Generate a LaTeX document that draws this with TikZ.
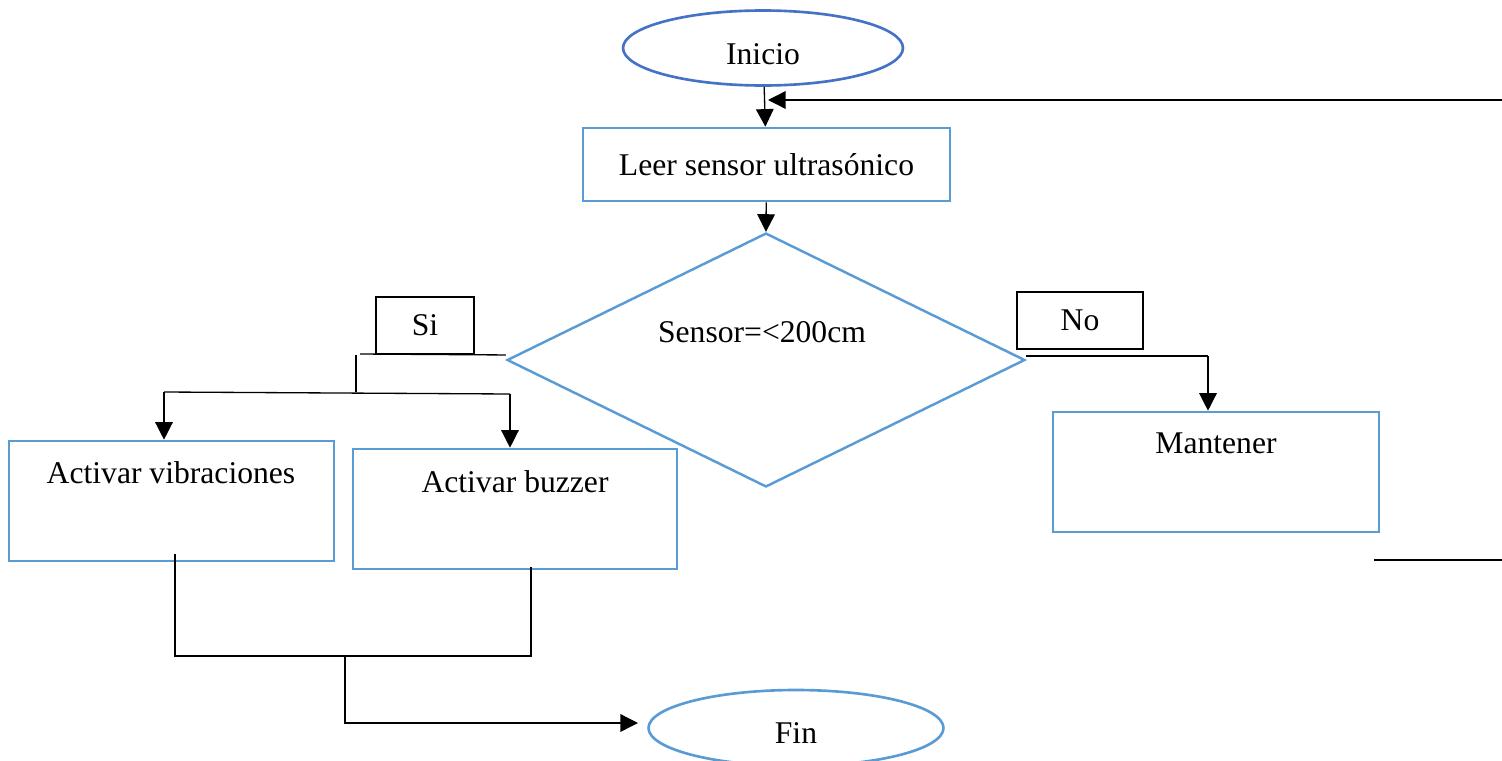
\documentclass[tikz,border=0pt]{standalone}
\usepackage{fontspec}
\setmainfont{Liberation Serif}
\usetikzlibrary{shapes.geometric,arrows.meta}
\definecolor{inicioblue}{HTML}{4472C4}
\definecolor{boxblue}{HTML}{5B9BD5}

\begin{document}
\begin{tikzpicture}[x=0.02cm,y=-0.02cm,font=\fontsize{18}{21}\selectfont,inner sep=0pt,
    startstop/.style={ellipse,draw=boxblue,line width=1.5pt},
    procbox/.style={rectangle,draw=boxblue,line width=1.5pt},
    decision/.style={diamond,draw=boxblue,line width=1.4pt},
    tagbox/.style={rectangle,draw=black,line width=1.1pt},
    conn/.style={line width=0.75pt},
    flecha/.style={conn,-{Triangle[length=10pt,width=10pt]}}]
  \path[use as bounding box] (0,0) rectangle (1502,761);
  \node[startstop,draw=inicioblue,minimum width=5.6cm,minimum height=1.5cm] (inicio) at (763,48) {};
  \node (iniciotxt) at (763,54) {Inicio};
  \node[procbox,minimum width=7.34cm,minimum height=1.46cm] (leer) at (766.5,164.5) {Leer sensor ultrasónico};
  \node[decision,minimum width=10.36cm,minimum height=5.08cm] (cond) at (766,360) {};
  \node (condtxt) at (762,332) {Sensor=<200cm};
  \node[tagbox,minimum width=1.96cm,minimum height=1.14cm] (si) at (425,325.5) {Si};
  \node[tagbox,minimum width=2.52cm,minimum height=1.14cm] (no) at (1080,320.5) {No};
  \node[procbox,minimum width=6.5cm,minimum height=2.4cm] (vib) at (171.5,501) {};
  \node (vibtxt) at (171,473) {Activar vibraciones};
  \node[procbox,minimum width=6.48cm,minimum height=2.4cm] (buz) at (515,509) {};
  \node (buztxt) at (515,482) {Activar buzzer};
  \node[procbox,minimum width=6.52cm,minimum height=2.4cm] (mant) at (1216,472) {};
  \node (manttxt) at (1216,443) {Mantener};
  \node[startstop,minimum width=5.9cm,minimum height=1.52cm] (fin) at (796,728) {};
  \node (fintxt) at (796,733) {Fin};

  \coordinate (ret1) at (1502,100);
  \coordinate (ret2) at (768,100);
  \coordinate (siJ) at (356,355);
  \coordinate (siL) at (164,392);
  \coordinate (siR) at (510,394);
  \coordinate (noR) at (1208,356);
  \coordinate (vibB) at (175,554);
  \coordinate (buzB) at (531,567);
  \coordinate (finJ) at (345,656);
  \coordinate (finIn) at (638,723);
  \coordinate (cola1) at (1374,560);
  \coordinate (cola2) at (1502,560);

  \draw[flecha] (inicio) -- (leer);
  \draw[flecha] (ret1) -- (ret2);
  \draw[flecha] (leer) -- (cond.north);
  \draw[conn] (cond.west |- si.south) -- (360,354);
  \draw[conn] (siJ) -- (siJ |- siL);
  \draw[conn] (siL) -- (siR);
  \draw[flecha] (siL) -- (siL |- vib.north);
  \draw[flecha] (siR) -- (siR |- buz.north);
  \draw[conn] (cond.east |- noR) -- (noR);
  \draw[flecha] (noR) -- (noR |- mant.north);
  \draw[conn] (vibB) -- (vibB |- finJ) -- (buzB |- finJ) -- (buzB);
  \draw[flecha] (finJ) -- (finJ |- finIn) -- (finIn);
  \draw[conn] (cola1) -- (cola2);
\end{tikzpicture}
\end{document}
